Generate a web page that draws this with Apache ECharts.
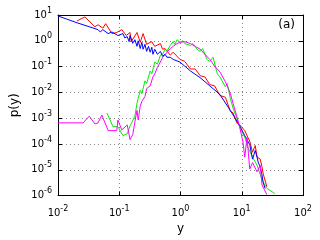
<!DOCTYPE html>
<html><head><meta charset="utf-8">
<script src="https://cdn.jsdelivr.net/npm/echarts@6/dist/echarts.min.js"></script>
<style>html,body{margin:0;padding:0;background:#fff}#c{width:320px;height:240px}</style>
</head><body><div id="c"></div>
<script>
var xTickLabels = ['10^-2','10^-1','10^0','10^1','10^2'];
var yTickLabels = ['10^-6','10^-5','10^-4','10^-3','10^-2','10^-1','10^0','10^1'];
var panelLabel = '(a)';
var xAxisName = 'y';
var yAxisName = 'p(y)';

var redX = [0.0204,0.0275,0.040,0.045,0.054,0.060,0.076,0.091,0.11,0.13,0.15,0.157,0.195,0.22,0.245,0.28,0.34,0.38,0.47,0.51,0.56,0.68,0.76,0.98,1.17,1.45,1.74,2.1,2.5,3.0,3.6,4.4,5.4,6.5,7.2,8.3,9.3,11.2,12.6,13.5,15,16.6,17.8,20,21.4,22.4,24,25.7];
var redY = [5.9,8.4,3.5,4.2,3.1,4.6,1.9,2.1,2.7,1.6,2.1,0.93,2.1,0.87,1.9,0.73,0.93,0.61,0.78,0.47,0.5,0.28,0.36,0.19,0.16,0.081,0.081,0.044,0.04,0.02,0.018,0.0076,0.0065,0.0019,0.0016,0.00066,0.00055,0.00033,0.00018,0.00013,0.000048,0.000088,0.000031,0.000026,0.000013,0.000007,0.0000083,0.0000022];

var blueX = [0.01,0.0204,0.0324,0.045,0.049,0.054,0.066,0.076,0.095,0.10,0.115,0.123,0.135,0.145,0.15,0.166,0.18,0.195,0.204,0.22,0.234,0.245,0.263,0.28,0.30,0.32,0.34,0.355,0.38,0.42,0.47,0.51,0.56,0.60,0.68,0.76,0.81,0.98,1.17,1.45,2.1,3.0,4.4,6.5,7.8,9.3,11.2,13.5,15,16.6,17.8,18.5,20,21.4,22.4,24];
var blueY = [9.2,5.0,3.5,2.7,2.2,2.7,1.9,2.2,1.6,1.45,1.9,1.3,1.45,0.93,1.6,0.8,1.1,0.61,1.0,0.5,0.87,0.47,0.73,0.39,0.61,0.36,0.56,0.3,0.47,0.3,0.39,0.25,0.3,0.23,0.23,0.19,0.21,0.15,0.105,0.068,0.037,0.018,0.0083,0.002,0.001,0.0005,0.00021,0.000095,0.000026,0.000056,0.000031,0.00002,0.000013,0.0000063,0.0000032,0.0000019];

var greenX = [0.063,0.079,0.095,0.115,0.135,0.15,0.18,0.195,0.204,0.22,0.234,0.263,0.28,0.32,0.34,0.38,0.42,0.47,0.51,0.56,0.60,0.68,0.76,0.81,0.88,0.98,1.1,1.17,1.45,1.6,1.86,2.1,2.3,2.7,3.0,3.4,4.0,4.4,5.4,5.8,6.5,7.2,8.3,9.3,11.2,12.6,15,17.8,21.4,25.7,34.7];
var greenY = [0.00158,0.00047,0.00047,0.00021,0.00025,0.0005,0.0012,0.0038,0.0059,0.012,0.009,0.028,0.022,0.068,0.052,0.15,0.125,0.28,0.3,0.47,0.39,0.66,0.93,0.73,1.1,0.87,1.0,0.78,0.66,0.78,0.47,0.39,0.5,0.19,0.16,0.23,0.052,0.04,0.0166,0.022,0.0059,0.0025,0.001,0.00043,0.00018,0.000074,0.000031,0.000015,0.0000041,0.0000019,0.0000012];

var magentaX = [0.01,0.0257,0.0324,0.040,0.045,0.052,0.066,0.091,0.095,0.11,0.135,0.15,0.166,0.18,0.195,0.204,0.22,0.234,0.263,0.28,0.32,0.355,0.38,0.42,0.47,0.51,0.56,0.60,0.68,0.76,0.88,0.98,1.17,1.45,1.74,2.1,2.5,3.0,3.6,4.4,5.4,6.5,7.2,8.3,9.3,10.5,11.2,12.2,13.5,15,17.8,20,21.4,25.7];
var magentaY = [0.00066,0.00066,0.0012,0.0006,0.00066,0.00132,0.00033,0.00033,0.00085,0.00035,0.00055,0.000148,0.00023,0.00072,0.002,0.00085,0.0029,0.0045,0.0069,0.014,0.018,0.04,0.052,0.095,0.15,0.23,0.28,0.36,0.5,0.61,0.78,0.87,0.93,0.78,0.61,0.47,0.3,0.19,0.105,0.062,0.026,0.0092,0.0038,0.0012,0.00043,0.000115,0.000031,0.00018,0.0000107,0.000019,0.0000083,0.000015,0.0000026,0.0000011];

function pairs(xs, ys){ var out=[]; for(var i=0;i<xs.length;i++) out.push([xs[i], ys[i]]); return out; }
function labelFor(list){
  return function(v){
    var e = Math.round(Math.log(v)/Math.LN10);
    var key = '10^' + e;
    var idx = list.indexOf(key);
    var t = idx >= 0 ? list[idx] : key;
    var p = t.split('^');
    return '{b|' + p[0] + '}{e|' + p[1] + '}';
  };
}
var rich = {
  b: {fontFamily:'DejaVu Sans', fontSize:10, color:'#000'},
  e: {fontFamily:'DejaVu Sans', fontSize:8, color:'#000', verticalAlign:'bottom', padding:[0,0,9,0]}
};
var gridStyle = {show:true, lineStyle:{color:'#888', width:1, type:[1,3]}};
var chart = echarts.init(document.getElementById('c'), null, {renderer:'canvas'});
function ser(name, xs, ys, color, z){
  return {name:name, type:'line', data:pairs(xs,ys), showSymbol:false, symbol:'none', z:z,
          lineStyle:{color:color, width:1}, itemStyle:{color:color}, animation:false};
}
chart.setOption({
  animation:false,
  backgroundColor:'#fff',
  grid:{left:58, right:17, top:15, bottom:41, containLabel:false},
  xAxis:[
    {type:'log', logBase:10, min:0.01, max:100, splitNumber:4, position:'bottom',
     axisLine:{show:true, lineStyle:{color:'#000', width:1}},
     axisTick:{show:true, inside:true, length:4, lineStyle:{color:'#000'}},
     minorTick:{show:false},
     axisLabel:{formatter:labelFor(xTickLabels), rich:rich, margin:9},
     splitLine:gridStyle,
     name:xAxisName, nameLocation:'middle', nameGap:26,
     nameTextStyle:{fontFamily:'DejaVu Sans', fontSize:12, color:'#000'}},
    {type:'log', logBase:10, min:0.01, max:100, splitNumber:4, position:'top',
     axisLine:{show:true, lineStyle:{color:'#000', width:1}},
     axisTick:{show:true, inside:true, length:4, lineStyle:{color:'#000'}},
     axisLabel:{show:false}, splitLine:{show:false}}
  ],
  yAxis:[
    {type:'log', logBase:10, min:1e-6, max:10, splitNumber:7, position:'left',
     axisLine:{show:true, lineStyle:{color:'#000', width:1}},
     axisTick:{show:true, inside:true, length:4, lineStyle:{color:'#000'}},
     minorTick:{show:false},
     axisLabel:{formatter:labelFor(yTickLabels), rich:rich, margin:6},
     splitLine:gridStyle,
     name:yAxisName, nameLocation:'middle', nameGap:35, nameRotate:90,
     nameTextStyle:{fontFamily:'DejaVu Sans', fontSize:12, color:'#000'}},
    {type:'log', logBase:10, min:1e-6, max:10, splitNumber:7, position:'right',
     axisLine:{show:true, lineStyle:{color:'#000', width:1}},
     axisTick:{show:true, inside:true, length:4, lineStyle:{color:'#000'}},
     axisLabel:{show:false}, splitLine:{show:false}}
  ],
  graphic:[{type:'text', right:25, top:19, style:{text:panelLabel, font:'12px "DejaVu Sans"', fill:'#000'}}],
  series:[
    ser('red', redX, redY, '#ff0000', 2),
    ser('green', greenX, greenY, '#00ee00', 3),
    ser('blue', blueX, blueY, '#0000ff', 4),
    ser('magenta', magentaX, magentaY, '#ff00ff', 5)
  ]
});
</script></body></html>
